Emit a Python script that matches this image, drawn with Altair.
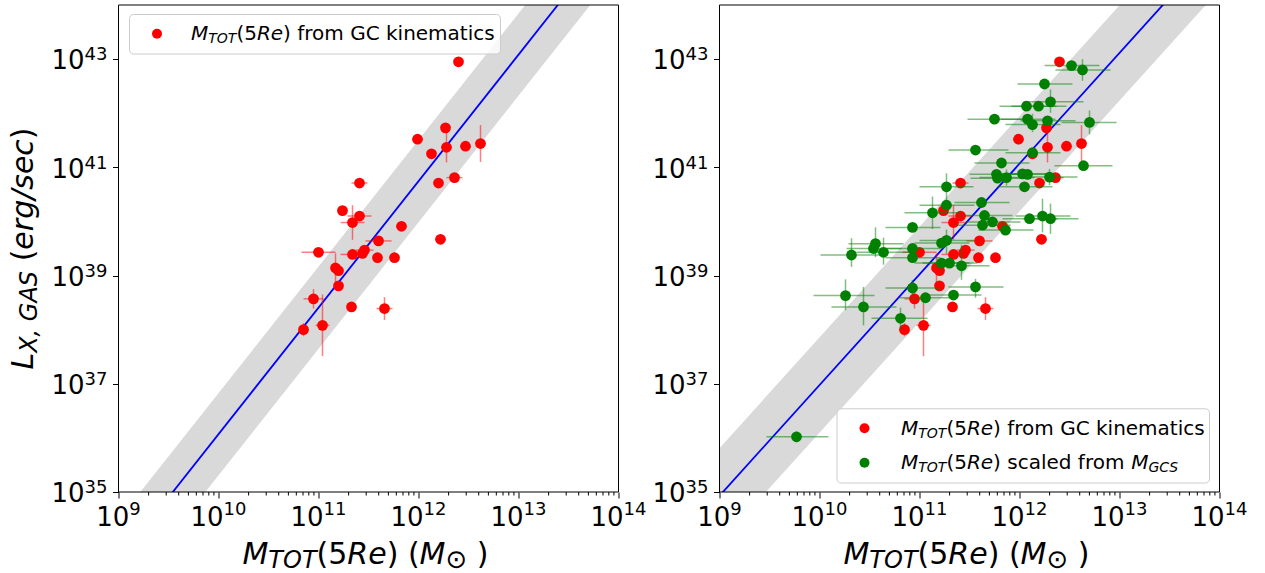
import altair as alt
import pandas as pd

# ---------------- data (log10 values) ----------------
red_logM = [12.40, 12.27, 11.99, 12.13, 12.28, 12.47, 12.62, 11.41, 12.20, 12.36,
            11.24, 11.41, 11.34, 11.83, 11.60, 12.22, 11.00, 11.34, 11.44, 11.46,
            11.59, 11.76, 11.17, 11.20, 11.20, 10.95, 11.33, 11.66, 10.85, 11.04]
red_logL = [42.95, 41.73, 41.52, 41.25, 41.37, 41.39, 41.44, 40.71, 40.71, 40.81,
            40.20, 40.10, 39.98, 39.91, 39.64, 39.67, 39.43, 39.39, 39.41, 39.47,
            39.33, 39.33, 39.14, 39.09, 38.81, 38.57, 38.42, 38.39, 38.00, 38.08]
red_xerr = [0, 0, 0, 0, 0, 0, 0, 0.08, 0, 0.08,
            0, 0.12, 0.12, 0, 0.13, 0, 0.17, 0.12, 0, 0.09,
            0, 0, 0, 0, 0, 0.10, 0, 0.08, 0.05, 0.07]
red_yerr = [0, 0, 0, 0, 0.28, 0, 0.34, 0, 0, 0,
            0, 0, 0.32, 0, 0, 0, 0, 0, 0, 0,
            0, 0, 0.27, 0, 0, 0.18, 0, 0.21, 0.12, 0.57]

green_logM = [12.52, 12.63, 12.25, 12.31, 12.07, 12.19, 11.75, 12.08, 12.13, 12.28,
              12.70, 11.56, 12.13, 11.82, 12.64, 11.77, 11.78, 11.87, 12.03, 12.08,
              12.30, 12.05, 11.27, 11.27, 11.13, 11.62, 11.65, 11.63, 11.73, 11.86,
              12.10, 12.23, 12.31, 10.93, 11.27, 11.22, 10.56, 10.54, 10.64, 10.32,
              10.93, 10.93, 11.22, 11.30, 11.42, 10.93, 11.56, 11.34, 11.06, 10.26,
              10.44, 10.81, 9.77]
green_logL = [42.88, 42.80, 42.54, 42.21, 42.13, 42.13, 41.89, 41.89, 41.79, 41.86,
              41.83, 41.32, 41.27, 41.08, 41.03, 40.87, 40.80, 40.81, 40.88, 40.87,
              40.82, 40.64, 40.64, 40.30, 40.16, 40.35, 40.11, 39.93, 39.99, 39.84,
              40.05, 40.10, 40.05, 39.89, 39.65, 39.60, 39.59, 39.50, 39.43, 39.38,
              39.50, 39.33, 39.23, 39.23, 39.18, 38.77, 38.79, 38.64, 38.59, 38.63,
              38.42, 38.21, 36.02]
green_xlo = [0.27, 0.27, 0.27, 0.27, 0.27, 0.27, 0.27, 0.27, 0.27, 0.27,
             0.28, 0.27, 0.27, 0.27, 0.29, 0.27, 0.27, 0.27, 0.27, 0.27,
             0.27, 0.27, 0.27, 0.27, 0.28, 0.27, 0.27, 0.27, 0.27, 0.27,
             0.27, 0.27, 0.27, 0.27, 0.27, 0.27, 0.27, 0.27, 0.27, 0.31,
             0.27, 0.27, 0.27, 0.27, 0.27, 0.27, 0.27, 0.27, 0.27, 0.32,
             0.32, 0.29, 0.30]
green_xhi = [0.28, 0.28, 0.28, 0.33, 0.30, 0.28, 0.28, 0.28, 0.28, 0.28,
             0.27, 0.33, 0.28, 0.28, 0.29, 0.28, 0.28, 0.28, 0.28, 0.28,
             0.28, 0.28, 0.27, 0.28, 0.28, 0.28, 0.28, 0.28, 0.28, 0.28,
             0.28, 0.28, 0.28, 0.28, 0.28, 0.28, 0.28, 0.28, 0.28, 0.32,
             0.28, 0.28, 0.28, 0.28, 0.28, 0.28, 0.28, 0.28, 0.28, 0.29,
             0.33, 0.27, 0.32]
green_ylo = [0, 0.20, 0, 0.20, 0, 0, 0, 0, 0.14, 0,
             0.22, 0, 0, 0, 0, 0, 0, 0.15, 0, 0,
             0.15, 0, 0.25, 0, 0.30, 0, 0, 0, 0, 0,
             0, 0.30, 0.28, 0, 0.25, 0, 0.25, 0, 0.23, 0.22,
             0, 0, 0, 0, 0.26, 0.15, 0.20, 0, 0, 0.27,
             0.34, 0.20, 0.10]
green_yhi = [0, 0.20, 0, 0.23, 0, 0, 0, 0, 0.20, 0,
             0.22, 0, 0, 0, 0, 0, 0, 0.15, 0, 0,
             0.15, 0, 0.25, 0, 0.30, 0, 0, 0, 0, 0,
             0, 0.32, 0.28, 0, 0.20, 0, 0.30, 0, 0.27, 0.31,
             0, 0, 0, 0, 0.39, 0.15, 0.15, 0, 0, 0.30,
             0.37, 0.20, 0.10]

# best-fit lines (log10 endpoints) and band half-widths (dex)
fit_logM = [9.0, 14.0]
fit_left_logL = [33.73, 45.42]
fit_right_logL = [34.93, 45.16]
band_left = 0.76
band_right = 0.88

# tick labels: base "10" with exponent as superscript
x_tick_values = [1e9, 1e10, 1e11, 1e12, 1e13, 1e14]
x_tick_exps = ["9", "10", "11", "12", "13", "14"]
y_tick_values = [1e35, 1e37, 1e39, 1e41, 1e43]
y_tick_exps = ["35", "37", "39", "41", "43"]

FONT = "DejaVu Sans"
W, H = 500, 487
RED, GREEN, BLUE = "#ff0000", "#008000", "#0000ff"

XS = alt.Scale(type="log", domain=[1e9, 1e14])
YS = alt.Scale(type="log", domain=[1e35, 1e44])
XAX = alt.Axis(values=x_tick_values, labels=False, title=None, grid=False, domain=False,
               tickSize=6, tickColor="black")
YAX = alt.Axis(values=y_tick_values, labels=False, title=None, grid=False, domain=False,
               tickSize=6, tickColor="black")


def X(f):
    return alt.X(f, scale=XS, axis=XAX)


def Y(f):
    return alt.Y(f, scale=YS, axis=YAX)


# ---------------- rich text helper (DejaVu Sans advance widths) ----------------
ADV = {' ': 651, '(': 799, ')': 799, ',': 651, '/': 690, '5': 1303, 'A': 1401, 'C': 1430,
       'G': 1587, 'L': 1141, 'M': 1767, 'O': 1612, 'R': 1423, 'S': 1300, 'T': 1251,
       'X': 1403, 'a': 1255, 'c': 1126, 'd': 1300, 'e': 1260, 'f': 721, 'g': 1300,
       'i': 569, 'k': 1186, 'l': 569, 'm': 1995, 'n': 1298, 'o': 1253, 'r': 842,
       's': 1067, 't': 803, '\u2299': 1716}
for _d in "0123456789":
    ADV[_d] = 1303


def adv(s, fs):
    return sum(ADV.get(c, 1250) for c in s) / 2048 * fs


def rich(segs, x0, y0, anchor="middle", rot=0):
    total = sum(adv(t, fs) for t, fs, st, sh in segs)
    pos = -total / 2 if anchor == "middle" else 0.0
    rows = []
    for t, fs, st, sh in segs:
        lead = len(t) - len(t.lstrip(" "))
        body = t.strip(" ")
        off = pos + lead * 651 / 2048 * fs
        if rot == 0:
            rows.append(dict(px=x0 + off, py=y0 + sh, txt=body, fs=fs, st=st, rot=0))
        else:
            rows.append(dict(px=x0 + sh, py=y0 - off, txt=body, fs=fs, st=st, rot=270))
        pos += adv(t, fs)
    return rows


I, N = "italic", "normal"
xtitle = [("M", 30, I, 0), ("TOT", 24, I, 4.5), ("(5", 30, N, 0), ("Re", 30, I, 0),
          (") (", 30, N, 0), ("M", 30, I, 0), ("\u2299", 26, N, 4.5), (" )", 30, N, 0)]
ytitle = [("L", 30, I, 0), ("X, GAS", 24, I, 4), (" (", 30, N, 0), ("erg/sec", 30, I, 0),
          (")", 30, N, 0)]
leg1 = [("M", 20, I, 0), ("TOT", 14, I, 3.5), ("(5", 20, N, 0), ("Re", 20, I, 0),
        (") from GC kinematics", 20, N, 0)]
leg2 = [("M", 20, I, 0), ("TOT", 14, I, 3.5), ("(5", 20, N, 0), ("Re", 20, I, 0),
        (") scaled from", 20, N, 0), (" M", 20, I, 0), ("GCS", 14, I, 3.5)]


def text_layers(rows):
    df = pd.DataFrame(rows)
    layers = []
    for (st, rot), sub in df.groupby(["st", "rot"]):
        layers.append(
            alt.Chart(sub).mark_text(align="left", baseline="alphabetic", font=FONT,
                                     fontStyle=st, angle=int(rot), color="black")
            .encode(x=alt.X("px:Q", scale=None), y=alt.Y("py:Q", scale=None),
                    text="txt:N", size=alt.Size("fs:Q", scale=None, legend=None)))
    return layers


LAB, SUP = 26, 18
BASE_W = adv("10", LAB)


def tick_label_layers():
    layers = []
    # x axis labels: centred on the tick, "10" then raised exponent
    for nd in (1, 2):
        vals = [v for v, e in zip(x_tick_values, x_tick_exps) if len(e) == nd]
        exps = [e for e in x_tick_exps if len(e) == nd]
        if not vals:
            continue
        df = pd.DataFrame({"M": vals, "e": exps, "b": ["10"] * len(vals)})
        total = BASE_W + adv("0" * nd, SUP)
        layers.append(alt.Chart(df).mark_text(align="left", baseline="alphabetic", font=FONT,
                                              fontSize=LAB, color="black", dx=-total / 2)
                      .encode(x=X("M:Q"), y=alt.value(H + 33.5), text="b:N"))
        layers.append(alt.Chart(df).mark_text(align="left", baseline="alphabetic", font=FONT,
                                              fontSize=SUP, color="black",
                                              dx=-total / 2 + BASE_W)
                      .encode(x=X("M:Q"), y=alt.value(H + 23.2), text="e:N"))
    # y axis labels: right aligned next to the tick
    df = pd.DataFrame({"L": y_tick_values, "e": y_tick_exps, "b": ["10"] * len(y_tick_values)})
    sup_w = adv("00", SUP)
    layers.append(alt.Chart(df).mark_text(align="left", baseline="alphabetic", font=FONT,
                                          fontSize=LAB, color="black",
                                          dx=-11 - sup_w - BASE_W, dy=10.3)
                  .encode(x=alt.value(0), y=Y("L:Q"), text="b:N"))
    layers.append(alt.Chart(df).mark_text(align="left", baseline="alphabetic", font=FONT,
                                          fontSize=SUP, color="black",
                                          dx=-11 - sup_w, dy=1.3)
                  .encode(x=alt.value(0), y=Y("L:Q"), text="e:N"))
    return layers


def series_layers(logM, logL, xlo, xhi, ylo, yhi, color):
    df = pd.DataFrame({
        "M": [10 ** m for m in logM], "L": [10 ** l for l in logL],
        "M_lo": [10 ** (m - a) for m, a in zip(logM, xlo)],
        "M_hi": [10 ** (m + a) for m, a in zip(logM, xhi)],
        "L_lo": [10 ** (l - a) for l, a in zip(logL, ylo)],
        "L_hi": [10 ** (l + a) for l, a in zip(logL, yhi)],
        "hx": [a + b > 0 for a, b in zip(xlo, xhi)],
        "hy": [a + b > 0 for a, b in zip(ylo, yhi)],
    })
    ex = alt.Chart(df[df.hx]).mark_rule(color=color, opacity=0.5, strokeWidth=1.5).encode(
        x=X("M_lo:Q"), x2="M_hi:Q", y=Y("L:Q"))
    ey = alt.Chart(df[df.hy]).mark_rule(color=color, opacity=0.5, strokeWidth=1.5).encode(
        x=X("M:Q"), y=Y("L_lo:Q"), y2="L_hi:Q")
    pts = alt.Chart(df).mark_circle(color=color, opacity=1, size=116).encode(
        x=X("M:Q"), y=Y("L:Q"))
    return [ex, ey, pts]


minor_vals = [k * 10 ** e for e in range(9, 14) for k in range(2, 10)]
ONE = pd.DataFrame({"k": [0]})


def panel(fit_logL, half, series, legend, show_ytitle):
    band = pd.DataFrame({
        "M": [10 ** m for m in fit_logM],
        "L": [10 ** l for l in fit_logL],
        "L_lo": [10 ** (l - half) for l in fit_logL],
        "L_hi": [10 ** (l + half) for l in fit_logL],
    })
    layers = [
        alt.Chart(band).mark_area(color="#d9d9d9", opacity=1, clip=True).encode(
            x=X("M:Q"), y=Y("L_lo:Q"), y2="L_hi:Q"),
        alt.Chart(band).mark_line(color=BLUE, strokeWidth=1.8, clip=True).encode(
            x=X("M:Q"), y=Y("L:Q")),
    ]
    for s in series:
        layers += series_layers(*s)
    layers.append(
        alt.Chart(pd.DataFrame({"M": minor_vals})).mark_rule(color="black", strokeWidth=1)
        .encode(x=X("M:Q"), y=alt.value(H), y2=alt.value(H + 3.5)))
    layers.append(
        alt.Chart(ONE).mark_rect(fill="white", fillOpacity=0, stroke="black", strokeWidth=1)
        .encode(x=alt.value(0), x2=alt.value(W), y=alt.value(0), y2=alt.value(H)))
    layers += tick_label_layers()
    # legend
    bx0, bx1, by0, by1, dots, tx, rows = legend
    layers.append(
        alt.Chart(ONE).mark_rect(fill="white", fillOpacity=0.8, stroke="#cccccc",
                                 strokeWidth=1, cornerRadius=4)
        .encode(x=alt.value(bx0), x2=alt.value(bx1), y=alt.value(by0), y2=alt.value(by1)))
    trows = []
    for (dx, dy, col), (segs, base) in zip(dots, rows):
        layers.append(alt.Chart(ONE).mark_circle(color=col, opacity=1, size=100)
                      .encode(x=alt.value(dx), y=alt.value(dy)))
        trows += rich(segs, tx, base, anchor="left")
    trows += rich(xtitle, W / 2 - 3, 558.5)
    if show_ytitle:
        trows += rich(ytitle, -85.5, H / 2, rot=270)
    layers += text_layers(trows)
    return alt.layer(*layers).properties(width=W, height=H)


left = panel(fit_left_logL, band_left,
             [(red_logM, red_logL, red_xerr, red_xerr, red_yerr, red_yerr, RED)],
             (11, 382, 9.5, 49, [(38.5, 28.8, RED)], 72.5, [(leg1, 34.5)]),
             True)
right = panel(fit_right_logL, band_right,
              [(red_logM, red_logL, red_xerr, red_xerr, red_yerr, red_yerr, RED),
               (green_logM, green_logL, green_xlo, green_xhi, green_ylo, green_yhi, GREEN)],
              (117.5, 490, 403.8, 478, [(145, 423.2, RED), (145, 457.8, GREEN)], 181.5,
               [(leg1, 429.8), (leg2, 463.8)]),
              False)

chart = alt.hconcat(left, right, spacing=101, bounds="flush").properties(
    padding={"left": 8.5, "top": 4, "right": 5, "bottom": 0}
).configure_view(strokeOpacity=0)

chart.save("out.html", embed_options={"renderer": "svg", "actions": False})
